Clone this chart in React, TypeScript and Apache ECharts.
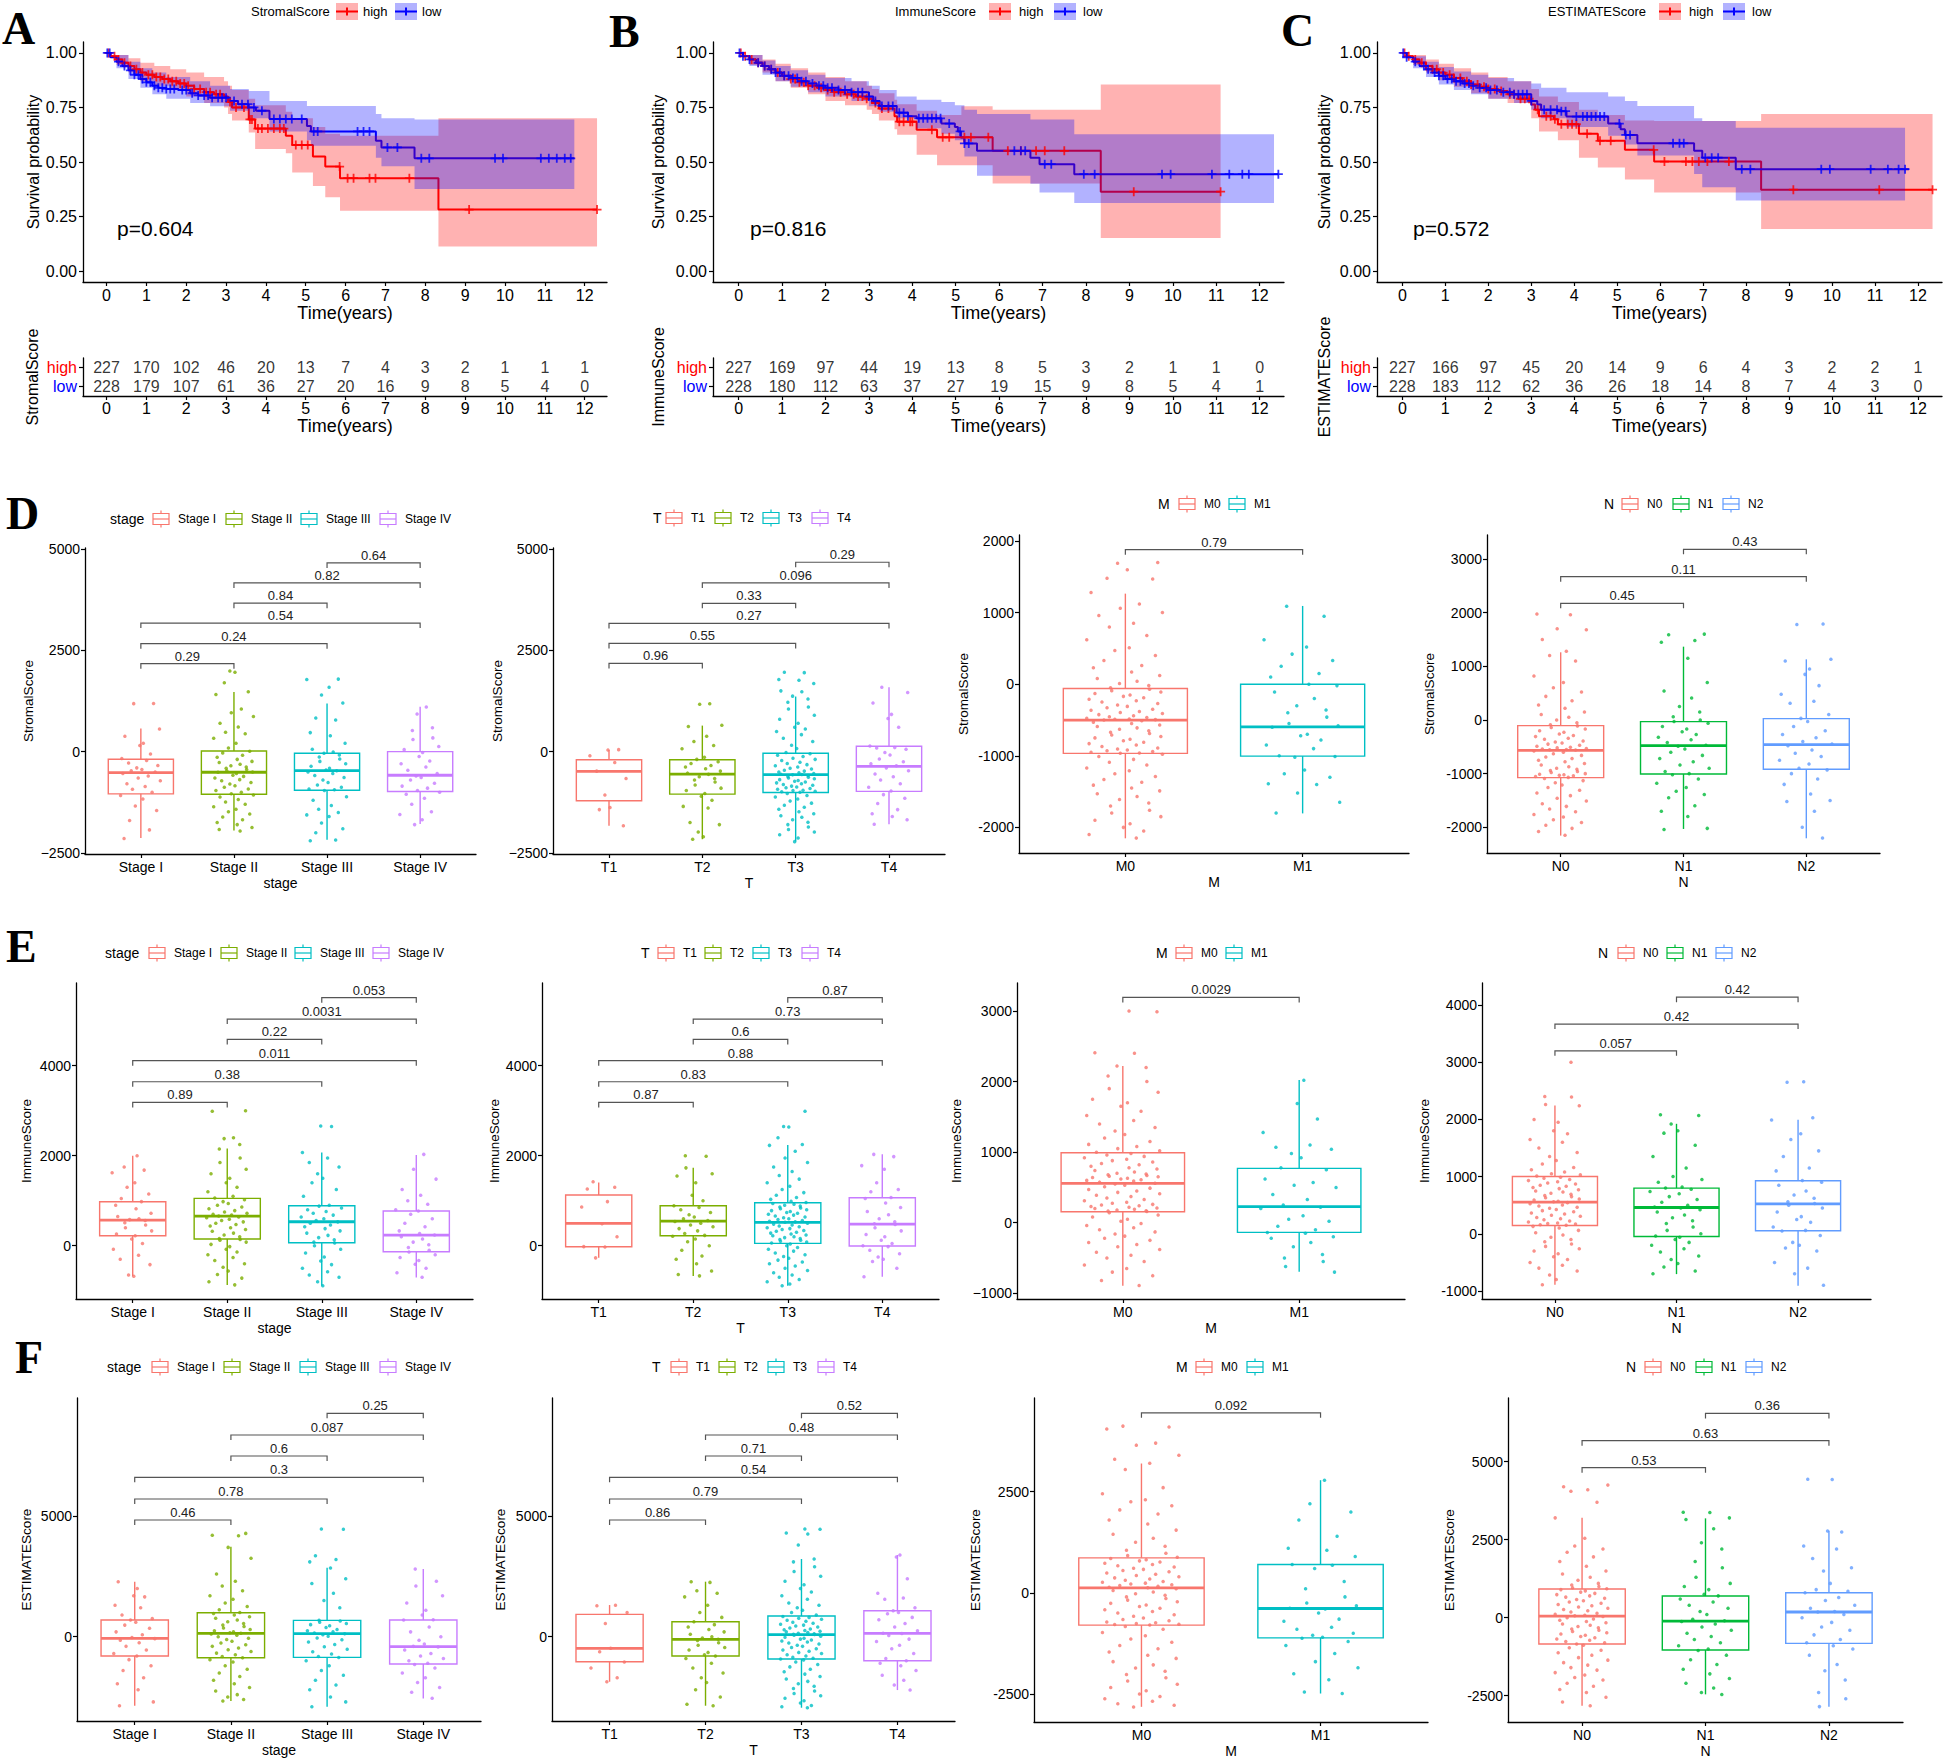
import React, { useEffect, useRef } from "react";
import * as echarts from "echarts";

const FONT = '"Liberation Sans", Arial, Helvetica, sans-serif';
const SERIF = '"Liberation Serif", "Times New Roman", serif';
const RED = "#FF0000";
const BLUE = "#0000FF";
const RED_FILL = "rgba(255,0,0,0.3)";
const BLUE_FILL = "rgba(0,0,255,0.3)";

// ---------------- Kaplan-Meier data ----------------
const YEARS = [0, 1, 2, 3, 4, 5, 6, 7, 8, 9, 10, 11, 12];
const PROB_TICKS = [0, 0.25, 0.5, 0.75, 1];

// A: StromalScore
const A_HIGH_T = [0, 0.1, 0.25, 0.4, 0.55, 0.7, 0.85, 1.0, 1.2, 1.4, 1.6, 1.8, 2.0, 2.2, 2.45, 2.7, 2.95, 3.05, 3.15, 3.57, 3.73, 4.5, 4.66, 5.18, 5.49, 5.86, 8.33, 12.31];
const A_HIGH_S = [1, 0.985, 0.97, 0.955, 0.94, 0.925, 0.91, 0.9, 0.89, 0.88, 0.87, 0.86, 0.85, 0.835, 0.82, 0.81, 0.8, 0.775, 0.75, 0.695, 0.653, 0.62, 0.578, 0.525, 0.479, 0.426, 0.282, 0.282];
const A_LOW_T = [0, 0.1, 0.25, 0.4, 0.55, 0.7, 0.85, 1.0, 1.15, 1.3, 1.5, 1.8, 2.1, 2.3, 2.6, 3.1, 3.3, 3.57, 3.75, 4.09, 5.03, 5.13, 6.76, 6.9, 7.73, 11.74];
const A_LOW_S = [1, 0.98, 0.96, 0.94, 0.92, 0.9, 0.88, 0.865, 0.85, 0.84, 0.835, 0.83, 0.815, 0.805, 0.795, 0.78, 0.765, 0.75, 0.735, 0.697, 0.665, 0.64, 0.597, 0.567, 0.517, 0.517];
const A_HIGH_BAND_T = [0, 0.25, 0.55, 0.85, 1.2, 1.6, 2.0, 2.45, 2.95, 3.05, 3.15, 3.57, 3.73, 4.5, 4.66, 5.18, 5.49, 5.86, 8.33, 12.31];
const A_HIGH_BAND_UP = [1, 0.99, 0.975, 0.955, 0.94, 0.925, 0.91, 0.89, 0.87, 0.85, 0.83, 0.79, 0.76, 0.73, 0.7, 0.66, 0.63, 0.62, 0.7, 0.7];
const A_HIGH_BAND_LO = [1, 0.945, 0.91, 0.87, 0.85, 0.83, 0.8, 0.77, 0.75, 0.72, 0.69, 0.635, 0.56, 0.54, 0.452, 0.39, 0.338, 0.277, 0.113, 0.113];
const A_LOW_BAND_T = [0, 0.25, 0.55, 0.85, 1.15, 1.5, 2.1, 2.6, 3.1, 3.57, 4.09, 5.03, 5.13, 6.76, 6.9, 7.73, 11.74];
const A_LOW_BAND_UP = [1, 0.99, 0.96, 0.93, 0.91, 0.89, 0.87, 0.85, 0.835, 0.825, 0.78, 0.757, 0.757, 0.72, 0.7, 0.695, 0.695];
const A_LOW_BAND_LO = [1, 0.93, 0.88, 0.84, 0.81, 0.79, 0.77, 0.755, 0.735, 0.7, 0.64, 0.6, 0.575, 0.52, 0.48, 0.376, 0.376];
const A_HIGH_CENS = [0.05, 0.2, 0.3, 0.45, 0.6, 0.75, 0.9, 1.05, 1.15, 1.25, 1.35, 1.45, 1.55, 1.65, 1.75, 1.85, 1.95, 2.05, 2.2, 2.35, 2.5, 2.6, 2.75, 2.85, 3.1, 3.25, 3.45, 3.6, 3.65, 3.8, 3.9, 4.05, 4.2, 4.35, 4.45, 4.75, 4.9, 5.05, 5.85, 6.05, 6.2, 6.6, 6.75, 7.6, 9.1, 12.31];
const A_LOW_CENS = [0.02, 0.08, 0.3, 0.45, 0.6, 0.7, 0.8, 0.9, 1.0, 1.1, 1.2, 1.3, 1.4, 1.5, 1.6, 1.7, 1.9, 2.0, 2.15, 2.3, 2.45, 2.55, 2.65, 2.8, 2.9, 3.0, 3.2, 3.4, 3.55, 3.7, 3.9, 4.2, 4.35, 4.5, 4.65, 4.9, 5.2, 5.3, 6.3, 6.45, 6.6, 7.05, 7.3, 7.9, 8.1, 9.75, 9.95, 10.9, 11.1, 11.3, 11.5, 11.65];
const A_RISK_HIGH = [227, 170, 102, 46, 20, 13, 7, 4, 3, 2, 1, 1, 1];
const A_RISK_LOW = [228, 179, 107, 61, 36, 27, 20, 16, 9, 8, 5, 4, 0];

// B: ImmuneScore
const B_HIGH_T = [0, 0.1, 0.25, 0.4, 0.55, 0.7, 0.85, 1.0, 1.2, 1.4, 1.6, 1.8, 2.0, 2.2, 2.45, 2.7, 2.95, 3.07, 3.23, 3.59, 3.65, 4.1, 4.57, 5.85, 8.34, 11.1];
const B_HIGH_S = [1, 0.985, 0.97, 0.955, 0.94, 0.925, 0.91, 0.895, 0.88, 0.865, 0.85, 0.84, 0.83, 0.82, 0.81, 0.8, 0.79, 0.77, 0.745, 0.71, 0.685, 0.648, 0.613, 0.551, 0.364, 0.364];
const B_LOW_T = [0, 0.1, 0.25, 0.4, 0.55, 0.7, 0.85, 1.0, 1.2, 1.4, 1.6, 1.8, 2.0, 2.3, 2.6, 3.0, 3.1, 3.25, 3.64, 3.9, 4.1, 4.67, 4.98, 5.05, 5.12, 5.2, 5.49, 6.72, 6.93, 7.73, 12.43];
const B_LOW_S = [1, 0.985, 0.97, 0.955, 0.94, 0.925, 0.91, 0.895, 0.885, 0.87, 0.86, 0.85, 0.84, 0.83, 0.82, 0.8, 0.78, 0.757, 0.726, 0.71, 0.7, 0.676, 0.66, 0.64, 0.612, 0.585, 0.551, 0.52, 0.49, 0.444, 0.444];
const B_HIGH_BAND_T = [0, 0.25, 0.55, 0.85, 1.2, 1.6, 2.0, 2.45, 2.95, 3.07, 3.23, 3.59, 3.65, 4.1, 4.57, 5.13, 5.85, 8.34, 11.1];
const B_HIGH_BAND_UP = [1, 0.99, 0.97, 0.95, 0.93, 0.91, 0.89, 0.87, 0.85, 0.835, 0.815, 0.785, 0.765, 0.735, 0.715, 0.755, 0.74, 0.855, 0.855];
const B_HIGH_BAND_LO = [1, 0.945, 0.91, 0.87, 0.84, 0.81, 0.78, 0.76, 0.74, 0.72, 0.69, 0.65, 0.625, 0.533, 0.485, 0.485, 0.402, 0.152, 0.152];
const B_LOW_BAND_T = [0, 0.25, 0.55, 0.85, 1.2, 1.6, 2.0, 2.6, 3.0, 3.25, 3.64, 4.1, 4.67, 4.98, 5.2, 5.49, 6.72, 6.93, 7.73, 12.33];
const B_LOW_BAND_UP = [1, 0.99, 0.965, 0.94, 0.92, 0.9, 0.885, 0.87, 0.85, 0.83, 0.8, 0.785, 0.775, 0.76, 0.74, 0.72, 0.695, 0.695, 0.627, 0.627];
const B_LOW_BAND_LO = [1, 0.94, 0.9, 0.87, 0.845, 0.82, 0.8, 0.78, 0.755, 0.73, 0.7, 0.655, 0.63, 0.6, 0.525, 0.437, 0.4, 0.36, 0.312, 0.312];
const B_HIGH_CENS = [0.05, 0.15, 0.3, 0.45, 0.6, 0.75, 0.9, 1.05, 1.2, 1.3, 1.4, 1.5, 1.6, 1.75, 1.9, 2.05, 2.2, 2.35, 2.5, 2.65, 2.75, 2.85, 2.95, 3.15, 3.3, 3.45, 3.7, 3.8, 3.95, 4.0, 4.45, 4.7, 4.85, 5.2, 5.35, 5.75, 6.2, 6.5, 6.85, 7.05, 7.5, 9.1, 11.1];
const B_LOW_CENS = [0.02, 0.1, 0.25, 0.45, 0.6, 0.75, 0.85, 0.95, 1.05, 1.15, 1.25, 1.35, 1.45, 1.55, 1.7, 1.85, 1.95, 2.05, 2.15, 2.3, 2.45, 2.6, 2.75, 2.85, 3.0, 3.15, 3.3, 3.45, 3.55, 3.7, 3.8, 3.9, 4.15, 4.25, 4.35, 4.45, 4.55, 4.65, 4.85, 5.1, 5.2, 5.3, 6.35, 6.5, 6.6, 7.05, 7.2, 7.95, 8.2, 9.75, 9.95, 10.9, 11.3, 11.6, 11.75, 12.43];
const B_RISK_HIGH = [227, 169, 97, 44, 19, 13, 8, 5, 3, 2, 1, 1, 0];
const B_RISK_LOW = [228, 180, 112, 63, 37, 27, 19, 15, 9, 8, 5, 4, 1];

// C: ESTIMATEScore
const C_HIGH_T = [0, 0.1, 0.25, 0.4, 0.55, 0.7, 0.85, 1.0, 1.2, 1.4, 1.6, 1.8, 2.0, 2.2, 2.45, 2.7, 3.0, 3.09, 3.18, 3.53, 3.62, 4.11, 4.55, 5.18, 5.86, 8.35, 12.34];
const C_HIGH_S = [1, 0.985, 0.97, 0.955, 0.94, 0.925, 0.91, 0.9, 0.885, 0.87, 0.855, 0.845, 0.835, 0.825, 0.81, 0.79, 0.764, 0.74, 0.71, 0.696, 0.673, 0.63, 0.597, 0.556, 0.502, 0.373, 0.373];
const C_LOW_T = [0, 0.1, 0.25, 0.4, 0.55, 0.7, 0.85, 1.0, 1.2, 1.4, 1.6, 1.8, 2.0, 2.3, 2.6, 3.0, 3.14, 3.23, 3.62, 3.82, 4.79, 5.08, 5.18, 5.47, 6.79, 6.98, 7.76, 11.79];
const C_LOW_S = [1, 0.98, 0.96, 0.94, 0.925, 0.91, 0.895, 0.88, 0.87, 0.86, 0.85, 0.84, 0.83, 0.82, 0.81, 0.78, 0.764, 0.74, 0.733, 0.708, 0.676, 0.65, 0.624, 0.586, 0.551, 0.52, 0.467, 0.467];
const C_HIGH_BAND_T = [0, 0.25, 0.55, 0.85, 1.2, 1.6, 2.0, 2.45, 3.0, 3.18, 3.62, 4.11, 4.55, 5.18, 5.86, 8.35, 12.34];
const C_HIGH_BAND_UP = [1, 0.99, 0.97, 0.95, 0.93, 0.91, 0.89, 0.87, 0.835, 0.8, 0.775, 0.74, 0.715, 0.69, 0.688, 0.72, 0.72];
const C_HIGH_BAND_LO = [1, 0.945, 0.91, 0.875, 0.845, 0.815, 0.79, 0.77, 0.7, 0.64, 0.6, 0.52, 0.475, 0.42, 0.36, 0.193, 0.193];
const C_LOW_BAND_T = [0, 0.25, 0.55, 0.85, 1.2, 1.6, 2.0, 2.6, 3.0, 3.23, 3.82, 4.79, 5.18, 5.47, 6.79, 6.98, 7.76, 11.7];
const C_LOW_BAND_UP = [1, 0.985, 0.96, 0.935, 0.915, 0.9, 0.885, 0.87, 0.86, 0.84, 0.82, 0.8, 0.78, 0.757, 0.7, 0.688, 0.657, 0.657];
const C_LOW_BAND_LO = [1, 0.93, 0.89, 0.855, 0.83, 0.81, 0.79, 0.77, 0.74, 0.7, 0.66, 0.62, 0.58, 0.53, 0.445, 0.384, 0.323, 0.323];
const C_HIGH_CENS = [0.05, 0.15, 0.3, 0.45, 0.55, 0.7, 0.8, 0.95, 1.1, 1.2, 1.35, 1.5, 1.6, 1.75, 1.9, 2.0, 2.15, 2.3, 2.5, 2.6, 2.75, 2.85, 2.95, 3.15, 3.35, 3.45, 3.55, 3.7, 3.85, 3.95, 4.05, 4.3, 4.6, 4.85, 5.85, 6.1, 6.6, 6.75, 6.9, 7.1, 7.6, 9.1, 11.1, 12.34];
const C_LOW_CENS = [0.02, 0.1, 0.3, 0.5, 0.6, 0.75, 0.85, 0.95, 1.05, 1.15, 1.25, 1.35, 1.45, 1.55, 1.65, 1.8, 1.95, 2.05, 2.2, 2.35, 2.5, 2.6, 2.7, 2.8, 2.9, 3.0, 3.3, 3.45, 3.6, 3.7, 3.8, 4.05, 4.2, 4.3, 4.4, 4.5, 4.6, 4.7, 5.05, 5.2, 5.3, 6.3, 6.45, 6.55, 7.05, 7.2, 7.35, 7.9, 8.1, 9.75, 9.95, 10.9, 11.3, 11.55, 11.7];
const C_RISK_HIGH = [227, 166, 97, 45, 20, 14, 9, 6, 4, 3, 2, 2, 1];
const C_RISK_LOW = [228, 183, 112, 62, 36, 26, 18, 14, 8, 7, 4, 3, 0];

// ---------------- Box plot data ----------------
const STAGE_CATS = ["Stage I", "Stage II", "Stage III", "Stage IV"];
const T_CATS = ["T1", "T2", "T3", "T4"];
const M_CATS = ["M0", "M1"];
const N_CATS = ["N0", "N1", "N2"];
const HUE4 = ["#F8766D", "#7CAE00", "#00BFC4", "#C77CFF"];
const HUE2 = ["#F8766D", "#00BFC4"];
const HUE3 = ["#F8766D", "#00BA38", "#619CFF"];

// box stats: [lower whisker, q1, median, q3, upper whisker]
const D_STAGE_BOX = [[-2131, -1041, -516, -189, 574], [-1943, -1049, -508, 16, 1475], [-2172, -951, -467, -41, 1189], [-1787, -984, -582, 0, 1107]];
const D_T_BOX = [[-1830, -1212, -486, -198, 41], [-2160, -1047, -552, -198, 643], [-2217, -1006, -569, -41, 1360], [-1789, -981, -363, 132, 1591]];
const D_M_BOX = [[-2153, -967, -502, -60, 1265], [-1805, -1005, -595, 0, 1093]];
const D_N_BOX = [[-2155, -1075, -565, -106, 1261], [-2031, -1006, -478, -31, 1366], [-2205, -919, -460, 25, 1130]];
const E_STAGE_BOX = [[-674, 222, 570, 978, 2000], [-874, 148, 659, 1052, 2163], [-889, 67, 533, 889, 2074], [-704, -133, 237, 770, 2015]];
const E_T_BOX = [[-267, -22, 496, 1126, 1407], [-674, 222, 548, 889, 1733], [-889, 52, 519, 956, 2237], [-689, -7, 481, 1067, 2030]];
const E_M_BOX = [[-893, 156, 557, 992, 2220], [-694, -137, 227, 770, 2021]];
const E_N_BOX = [[-892, 146, 554, 1002, 2244], [-705, -47, 460, 798, 1923], [-909, 52, 524, 927, 1993]];
const F_STAGE_BOX = [[-2859, -801, -69, 691, 2279], [-2666, -870, 138, 994, 3729], [-2901, -856, 124, 677, 2859], [-2555, -1133, -414, 691, 2804]];
const F_T_BOX = [[-1865, -1036, -483, 925, 1312], [-2859, -801, -110, 622, 2279], [-2942, -925, 83, 856, 3218], [-2210, -994, 138, 1077, 3384]];
const F_M_BOX = [[-2817, -799, 124, 865, 3196], [-2488, -1112, -387, 700, 2784]];
const F_N_BOX = [[-2821, -844, 53, 919, 3205], [-2457, -1036, -107, 694, 3184], [-2853, -823, 182, 801, 2788]];

// p-value brackets: [group a, group b, height, label]
const D_STAGE_P = [[0, 1, 2172, "0.29"], [0, 2, 2664, "0.24"], [0, 3, 3172, "0.54"], [1, 2, 3664, "0.84"], [1, 3, 4164, "0.82"], [2, 3, 4656, "0.64"]];
const D_T_P = [[0, 1, 2176, "0.96"], [0, 2, 2671, "0.55"], [0, 3, 3165, "0.27"], [1, 2, 3660, "0.33"], [1, 3, 4163, "0.096"], [2, 3, 4673, "0.29"]];
const D_M_P = [[0, 1, 1879, "0.79"]];
const D_N_P = [[0, 1, 2174, "0.45"], [0, 2, 2671, "0.11"], [1, 2, 3180, "0.43"]];
const E_STAGE_P = [[0, 1, 3185, "0.89"], [0, 2, 3644, "0.38"], [0, 3, 4111, "0.011"], [1, 2, 4585, "0.22"], [1, 3, 5037, "0.0031"], [2, 3, 5511, "0.053"]];
const E_T_P = [[0, 1, 3185, "0.87"], [0, 2, 3644, "0.83"], [0, 3, 4111, "0.88"], [1, 2, 4585, "0.6"], [1, 3, 5037, "0.73"], [2, 3, 5511, "0.87"]];
const E_M_P = [[0, 1, 3192, "0.0029"]];
const E_N_P = [[0, 1, 3199, "0.057"], [0, 2, 3666, "0.42"], [1, 2, 4138, "0.42"]];
const F_STAGE_P = [[0, 1, 4834, "0.46"], [0, 2, 5704, "0.78"], [0, 3, 6602, "0.3"], [1, 2, 7486, "0.6"], [1, 3, 8356, "0.087"], [2, 3, 9254, "0.25"]];
const F_T_P = [[0, 1, 4834, "0.86"], [0, 2, 5704, "0.79"], [0, 3, 6602, "0.54"], [1, 2, 7486, "0.71"], [1, 3, 8356, "0.48"], [2, 3, 9254, "0.52"]];
const F_M_P = [[0, 1, 4448, "0.092"]];
const F_N_P = [[0, 1, 4808, "0.53"], [0, 2, 5673, "0.63"], [1, 2, 6549, "0.36"]];

// jittered sample values (StromalScore)
const D_STAGE_I = [1190, 1185, 560, 380, 210, 150, -60, -170, -220, -280, -340, -400, -440, -470, -500, -540, -600, -650, -720, -790, -860, -930, -1000, -1080, -1170, -1340, -1450, -1700, -1930, -2140];
const D_STAGE_II = [1990, 1960, 1700, 1480, 1410, 1050, 960, 870, 700, 610, 480, 440, 330, 210, 90, 10, -30, -90, -140, -190, -240, -270, -310, -350, -380, -410, -440, -470, -500, -510, -540, -580, -610, -650, -690, -720, -760, -800, -840, -880, -920, -960, -1000, -1040, -1070, -1120, -1180, -1240, -1300, -1360, -1420, -1480, -1540, -1610, -1680, -1750, -1800, -1870, -1920, -1960];
const D_STAGE_III = [1790, 1780, 1590, 1400, 1200, 830, 780, 470, 390, 210, 60, -10, -40, -80, -130, -180, -240, -300, -360, -410, -450, -470, -500, -540, -590, -640, -700, -760, -820, -880, -920, -940, -960, -1110, -1200, -1330, -1420, -1500, -1560, -1600, -1760, -1900, -2000, -2180, -2200];
const D_STAGE_IV = [1100, 930, 590, 520, 340, 300, 130, 50, -20, -120, -230, -300, -380, -460, -540, -600, -640, -700, -780, -850, -900, -960, -1000, -1050, -1150, -1300, -1480, -1550, -1680, -1800];
const D_T1 = [40, 50, -100, -270, -480, -660, -1070, -1380, -1430, -1830];
const D_T2 = [1180, 1170, 650, 620, 380, 250, 150, 70, -140, -190, -250, -290, -340, -380, -420, -480, -530, -560, -620, -660, -700, -750, -820, -900, -960, -1030, -1100, -1200, -1350, -1390, -1750, -1800, -1980, -2100, -2160];
const D_T3 = [1960, 1950, 1780, 1760, 1680, 1500, 1480, 1370, 1300, 1220, 1100, 1050, 900, 800, 700, 600, 560, 500, 420, 330, 250, 160, 80, -20, -50, -90, -120, -160, -190, -220, -260, -290, -320, -350, -380, -410, -430, -460, -480, -500, -520, -540, -555, -565, -570, -590, -610, -630, -650, -670, -690, -710, -730, -750, -770, -790, -810, -830, -850, -870, -890, -910, -930, -950, -960, -975, -990, -1000, -1030, -1080, -1120, -1170, -1220, -1270, -1320, -1370, -1420, -1480, -1530, -1580, -1620, -1680, -1740, -1800, -1860, -1920, -1980, -2050, -2130, -2220];
const D_T4 = [1590, 1460, 1200, 920, 820, 600, 140, 100, 90, 60, -20, -80, -180, -250, -300, -350, -400, -470, -550, -620, -700, -790, -880, -970, -1060, -1150, -1280, -1430, -1530, -1600, -1680, -1790];
const D_M0 = [1700, 1690, 1600, 1480, 1470, 1280, 1120, 1060, 1000, 960, 850, 800, 680, 620, 510, 470, 400, 330, 260, 230, 170, 120, 80, 40, 10, -20, -50, -70, -90, -110, -130, -150, -170, -190, -210, -230, -250, -270, -290, -310, -330, -350, -365, -380, -395, -410, -425, -440, -455, -465, -475, -485, -490, -495, -500, -510, -530, -550, -570, -590, -610, -630, -650, -670, -690, -710, -730, -750, -770, -790, -810, -830, -850, -870, -890, -905, -920, -930, -940, -950, -960, -965, -980, -1010, -1050, -1090, -1130, -1170, -1210, -1250, -1290, -1330, -1370, -1410, -1450, -1490, -1530, -1570, -1610, -1660, -1700, -1760, -1800, -1850, -1900, -1950, -2000, -2050, -2100, -2150];
const D_M1 = [1090, 950, 620, 520, 420, 330, 250, 150, 100, 0, -20, -110, -200, -300, -360, -400, -460, -550, -580, -600, -700, -720, -780, -850, -900, -1000, -1010, -1020, -1200, -1250, -1300, -1390, -1400, -1520, -1650, -1800];
const D_N0 = [1975, 1960, 1700, 1680, 1500, 1280, 1200, 1100, 820, 700, 600, 520, 440, 360, 280, 220, 150, 100, 50, 0, -50, -90, -110, -140, -170, -200, -230, -260, -290, -310, -340, -360, -390, -410, -430, -450, -470, -490, -510, -520, -530, -540, -550, -555, -560, -580, -600, -630, -660, -690, -720, -750, -780, -810, -840, -870, -900, -920, -940, -960, -980, -1000, -1010, -1020, -1030, -1040, -1055, -1070, -1090, -1130, -1170, -1210, -1260, -1310, -1360, -1410, -1460, -1510, -1560, -1610, -1660, -1710, -1760, -1810, -1860, -1910, -1960, -2020, -2080, -2150];
const D_N1 = [1600, 1590, 1480, 1450, 1150, 700, 540, 410, 250, 150, 60, 0, -30, -60, -120, -170, -220, -270, -320, -370, -420, -470, -490, -540, -600, -660, -720, -780, -840, -900, -960, -1000, -1020, -1100, -1180, -1260, -1330, -1390, -1450, -1600, -1700, -1800, -2020, -2040];
const D_N2 = [1790, 1780, 1130, 1100, 950, 850, 640, 480, 350, 310, 100, 30, -30, -120, -200, -270, -330, -400, -450, -480, -560, -620, -680, -750, -820, -900, -930, -1000, -1100, -1200, -1380, -1500, -1520, -1700, -2000, -2200];

// jittered sample values (ImmuneScore)
const E_STAGE_I = [2000, 1750, 1680, 1620, 1400, 1300, 1150, 1050, 980, 900, 820, 720, 650, 600, 580, 560, 510, 460, 400, 330, 260, 220, 150, 50, -80, -210, -300, -420, -650, -680];
const E_STAGE_II = [3000, 2990, 2400, 2380, 2250, 2150, 1950, 1850, 1700, 1600, 1500, 1400, 1300, 1200, 1100, 1060, 1020, 980, 940, 900, 860, 820, 780, 750, 720, 700, 680, 660, 640, 620, 590, 560, 530, 500, 470, 440, 400, 360, 320, 280, 240, 200, 160, 140, 120, 80, 30, -20, -80, -140, -200, -260, -330, -400, -480, -560, -640, -720, -800, -870];
const E_STAGE_III = [2660, 2650, 2070, 1950, 1850, 1750, 1600, 1500, 1400, 1250, 1100, 900, 880, 840, 800, 760, 720, 680, 640, 600, 560, 530, 500, 460, 420, 380, 330, 280, 230, 180, 130, 80, 60, 0, -80, -160, -250, -340, -420, -500, -580, -650, -700, -800, -890];
const E_STAGE_IV = [2030, 1700, 1480, 1250, 1120, 1000, 920, 800, 770, 700, 600, 500, 420, 330, 270, 240, 200, 150, 80, 20, -40, -100, -140, -200, -260, -330, -410, -500, -600, -700];
const E_T1 = [1420, 1300, 1260, 980, 860, 490, 200, -20, -30, -270];
const E_T2 = [2000, 1990, 1730, 1600, 1550, 1400, 1120, 1000, 890, 850, 800, 740, 690, 640, 600, 560, 540, 500, 460, 420, 380, 330, 270, 230, 210, 150, 90, 0, -100, -230, -300, -400, -560, -640, -670];
const E_T3 = [2990, 2650, 2640, 2400, 2250, 2230, 2100, 1950, 1850, 1750, 1650, 1560, 1480, 1400, 1320, 1250, 1180, 1120, 1070, 1030, 990, 960, 940, 920, 900, 880, 860, 840, 820, 800, 780, 760, 740, 720, 700, 680, 660, 640, 620, 600, 580, 560, 545, 530, 520, 500, 480, 460, 440, 420, 400, 380, 360, 340, 320, 300, 280, 260, 240, 220, 200, 180, 160, 140, 120, 100, 80, 60, 40, 0, -40, -80, -120, -160, -200, -240, -280, -320, -360, -400, -450, -500, -550, -600, -650, -700, -750, -800, -850, -890];
const E_T4 = [2030, 1980, 1780, 1700, 1400, 1250, 1200, 1070, 1050, 950, 850, 760, 690, 600, 530, 490, 470, 400, 330, 250, 200, 120, 50, 0, -20, -100, -180, -250, -300, -350, -500, -690];
const E_M0 = [3000, 2990, 2410, 2400, 2220, 2200, 2080, 2000, 1900, 1850, 1750, 1700, 1650, 1580, 1520, 1450, 1400, 1350, 1300, 1250, 1200, 1150, 1110, 1080, 1050, 1020, 1000, 980, 960, 940, 920, 900, 880, 860, 840, 820, 800, 780, 760, 740, 720, 700, 690, 680, 670, 660, 650, 640, 630, 620, 610, 600, 590, 575, 560, 550, 530, 510, 490, 470, 450, 430, 410, 390, 370, 350, 330, 310, 290, 275, 260, 250, 240, 230, 220, 210, 200, 190, 180, 170, 165, 160, 140, 110, 80, 50, 20, -10, -40, -70, -100, -130, -160, -190, -220, -250, -280, -310, -340, -380, -420, -460, -500, -550, -600, -650, -700, -750, -820, -890];
const E_M1 = [2020, 1690, 1470, 1280, 1100, 1070, 1040, 980, 920, 780, 750, 620, 570, 530, 500, 400, 330, 250, 220, 200, 100, 50, 20, -50, -100, -140, -150, -200, -220, -280, -340, -450, -500, -550, -620, -700];
const E_N0 = [3000, 2400, 2390, 2260, 2240, 2000, 1950, 1800, 1750, 1650, 1600, 1500, 1420, 1350, 1280, 1220, 1160, 1120, 1080, 1050, 1030, 1010, 990, 970, 950, 930, 910, 890, 870, 850, 830, 810, 790, 770, 750, 730, 710, 690, 670, 650, 630, 610, 590, 570, 560, 545, 525, 505, 485, 465, 445, 425, 405, 385, 365, 345, 325, 305, 285, 265, 245, 225, 205, 190, 180, 170, 160, 150, 130, 100, 60, 20, -20, -60, -100, -140, -180, -220, -260, -300, -350, -400, -450, -500, -550, -600, -650, -720, -800, -890];
const E_N1 = [2080, 2070, 1920, 1800, 1760, 1550, 1350, 1150, 1000, 950, 900, 820, 800, 780, 740, 700, 650, 600, 550, 500, 470, 450, 420, 380, 330, 280, 230, 180, 120, 60, 0, -40, -60, -100, -150, -200, -260, -320, -390, -450, -520, -580, -650, -700];
const E_N2 = [2660, 2650, 2030, 1990, 1750, 1650, 1450, 1350, 1150, 1100, 930, 900, 850, 750, 680, 620, 560, 530, 500, 450, 380, 300, 250, 200, 120, 60, 50, -30, -150, -200, -250, -300, -500, -600, -700, -900];

// jittered sample values (ESTIMATEScore)
const F_STAGE_I = [2280, 2000, 1700, 1650, 1300, 1200, 900, 750, 690, 600, 480, 350, 200, 80, -30, -80, -150, -250, -400, -550, -700, -800, -950, -1200, -1400, -1700, -1950, -2200, -2700, -2860];
const F_STAGE_II = [4280, 4200, 4180, 3700, 3250, 2600, 2300, 2100, 1900, 1700, 1550, 1400, 1250, 1120, 1000, 960, 900, 830, 760, 690, 620, 550, 480, 420, 360, 300, 250, 200, 160, 140, 110, 60, 0, -60, -120, -190, -260, -330, -400, -470, -540, -610, -680, -750, -820, -870, -950, -1050, -1200, -1350, -1500, -1650, -1800, -1950, -2100, -2250, -2400, -2500, -2600, -2660];
const F_STAGE_III = [4460, 4450, 3350, 3200, 3100, 2850, 2400, 2200, 1800, 1500, 1200, 680, 650, 600, 550, 500, 450, 380, 300, 250, 200, 150, 124, 80, 20, -50, -130, -220, -320, -420, -520, -620, -720, -820, -860, -1000, -1200, -1400, -1600, -1800, -2000, -2200, -2500, -2700, -2900];
const F_STAGE_IV = [2800, 2300, 2100, 1700, 1400, 1100, 900, 700, 690, 400, 200, 0, -150, -300, -400, -430, -550, -700, -800, -900, -1000, -1100, -1150, -1300, -1500, -1700, -1900, -2100, -2300, -2550];
const F_T1 = [1300, 1280, 1000, 550, -480, -620, -1050, -1300, -1700, -1870];
const F_T2 = [2280, 2250, 1900, 1800, 1650, 1300, 1000, 800, 622, 500, 400, 300, 200, 100, 0, -50, -110, -160, -250, -350, -450, -550, -650, -750, -800, -900, -1100, -1300, -1500, -1700, -1900, -2200, -2500, -2800, -2860];
const F_T3 = [4460, 4450, 4300, 4250, 3800, 3220, 3100, 2900, 2700, 2500, 2300, 2150, 2000, 1850, 1700, 1550, 1400, 1300, 1200, 1100, 1000, 900, 840, 800, 760, 720, 680, 640, 600, 560, 520, 480, 440, 400, 360, 320, 290, 260, 230, 200, 170, 140, 120, 100, 90, 60, 20, -20, -60, -100, -140, -180, -220, -260, -300, -350, -400, -450, -500, -550, -600, -650, -700, -750, -800, -850, -890, -920, -960, -1050, -1150, -1250, -1350, -1450, -1550, -1650, -1750, -1850, -1950, -2050, -2150, -2250, -2350, -2450, -2550, -2650, -2750, -2850, -2900, -2940];
const F_T4 = [3380, 3300, 2400, 1800, 1600, 1550, 1200, 1077, 1000, 950, 800, 700, 550, 400, 250, 140, 130, 50, -100, -200, -350, -500, -700, -900, -1000, -1100, -1200, -1400, -1600, -1800, -2000, -2210];
const F_M0 = [4120, 4100, 4050, 3700, 3650, 3400, 3300, 3200, 3050, 2600, 2450, 2300, 2250, 2150, 2050, 1950, 1800, 1700, 1550, 1450, 1350, 1250, 1150, 1050, 980, 920, 880, 850, 820, 790, 760, 730, 700, 670, 640, 610, 580, 550, 520, 490, 460, 430, 400, 370, 340, 310, 280, 260, 240, 220, 200, 180, 160, 140, 125, 100, 60, 20, -20, -60, -100, -140, -180, -220, -260, -300, -340, -380, -420, -460, -500, -540, -580, -620, -660, -690, -720, -740, -760, -775, -785, -795, -830, -900, -980, -1060, -1140, -1220, -1300, -1380, -1460, -1540, -1620, -1700, -1780, -1860, -1940, -2020, -2100, -2180, -2260, -2340, -2420, -2500, -2560, -2620, -2680, -2740, -2780, -2820];
const F_M1 = [2780, 2200, 2000, 1800, 1400, 1100, 1050, 900, 700, 680, 600, 280, 100, -100, -250, -320, -380, -400, -500, -650, -700, -850, -900, -1000, -1050, -1100, -1120, -1200, -1300, -1500, -1700, -1850, -2000, -2150, -2450, -2490];
const F_N0 = [4250, 4200, 4100, 4050, 3700, 3200, 2550, 2300, 2200, 2100, 1950, 1800, 1650, 1500, 1400, 1300, 1200, 1100, 1050, 1000, 960, 930, 900, 860, 820, 780, 740, 700, 660, 620, 580, 540, 500, 460, 420, 380, 340, 300, 260, 220, 180, 140, 110, 80, 60, 40, 0, -40, -80, -120, -160, -200, -240, -280, -320, -360, -400, -440, -480, -520, -560, -600, -640, -680, -720, -760, -800, -840, -880, -960, -1040, -1120, -1200, -1280, -1360, -1440, -1520, -1600, -1680, -1760, -1840, -1920, -2000, -2100, -2200, -2300, -2400, -2550, -2700, -2820];
const F_N1 = [3380, 3370, 3200, 3150, 2850, 2400, 2200, 1800, 1600, 1300, 1100, 1000, 900, 750, 700, 600, 500, 400, 300, 200, 100, -50, -100, -120, -200, -300, -400, -500, -600, -700, -800, -900, -1000, -1050, -1200, -1350, -1500, -1650, -1800, -1950, -2100, -2250, -2400, -2460];
const F_N2 = [4440, 4430, 2780, 2750, 2300, 2200, 1900, 1600, 1500, 1100, 900, 850, 800, 650, 550, 400, 300, 200, 180, 100, 0, -150, -300, -400, -550, -700, -800, -900, -1000, -1200, -1500, -1700, -2000, -2400, -2600, -2850];

// horizontal jitter pattern (fraction of half-spread)
const JITTER = [0.62, -0.35, 0.91, -0.78, 0.12, -0.05, 0.47, -0.93, 0.28, -0.6, 0.83, -0.2, 0.05, -0.47, 0.7, -0.88, 0.36, -0.13, 0.95, -0.68, 0.21, -0.41, 0.55, -0.99, 0.1, -0.27, 0.77, -0.55, 0.42, -0.82, 0.16, 0.88, -0.72, 0.3, -0.15, 0.6, -0.38];

// ---------------- layout ----------------
const KM_PANELS = [
  { title: "StromalScore", p: "p=0.604", letter: "A", letterX: 2, letterY: 28, left: 83, width: 524, yGap: 42, rGap: 43, pX: 117, leg: [251, 336, 363, 395, 422],
    hi: { t: A_HIGH_T, s: A_HIGH_S, bt: A_HIGH_BAND_T, up: A_HIGH_BAND_UP, lo: A_HIGH_BAND_LO, cens: A_HIGH_CENS, risk: A_RISK_HIGH },
    lw: { t: A_LOW_T, s: A_LOW_S, bt: A_LOW_BAND_T, up: A_LOW_BAND_UP, lo: A_LOW_BAND_LO, cens: A_LOW_CENS, risk: A_RISK_LOW } },
  { title: "ImmuneScore", p: "p=0.816", letter: "B", letterX: 609, letterY: 31, left: 713, width: 571, yGap: 47, rGap: 47, pX: 750, leg: [895, 989, 1019, 1054, 1083],
    hi: { t: B_HIGH_T, s: B_HIGH_S, bt: B_HIGH_BAND_T, up: B_HIGH_BAND_UP, lo: B_HIGH_BAND_LO, cens: B_HIGH_CENS, risk: B_RISK_HIGH },
    lw: { t: B_LOW_T, s: B_LOW_S, bt: B_LOW_BAND_T, up: B_LOW_BAND_UP, lo: B_LOW_BAND_LO, cens: B_LOW_CENS, risk: B_RISK_LOW } },
  { title: "ESTIMATEScore", p: "p=0.572", letter: "C", letterX: 1281, letterY: 30, left: 1377, width: 565, yGap: 45, rGap: 45, pX: 1413, leg: [1548, 1659, 1689, 1723, 1752],
    hi: { t: C_HIGH_T, s: C_HIGH_S, bt: C_HIGH_BAND_T, up: C_HIGH_BAND_UP, lo: C_HIGH_BAND_LO, cens: C_HIGH_CENS, risk: C_RISK_HIGH },
    lw: { t: C_LOW_T, s: C_LOW_S, bt: C_LOW_BAND_T, up: C_LOW_BAND_UP, lo: C_LOW_BAND_LO, cens: C_LOW_CENS, risk: C_RISK_LOW } },
];

const HY = "-";
const MN = "\u2212";
const BOX_PANELS = [
  { cats: STAGE_CATS, colors: HUE4, box: D_STAGE_BOX, pts: [D_STAGE_I, D_STAGE_II, D_STAGE_III, D_STAGE_IV], p: D_STAGE_P, yTitle: "StromalScore", xTitle: "stage", ticks: [-2500, 0, 2500, 5000], yr: [-2525, 5025], minus: MN, g: [85, 548, 476, 854], yGap: 50, leg: { y: 519, tx: 110, kx: [153, 226, 301, 380] } },
  { cats: T_CATS, colors: HUE4, box: D_T_BOX, pts: [D_T1, D_T2, D_T3, D_T4], p: D_T_P, yTitle: "StromalScore", xTitle: "T", ticks: [-2500, 0, 2500, 5000], yr: [-2525, 5025], minus: MN, g: [553, 548, 945, 854], yGap: 49, leg: { y: 518, tx: 653, kx: [666, 715, 763, 812] } },
  { cats: M_CATS, colors: HUE2, box: D_M_BOX, pts: [D_M0, D_M1], p: D_M_P, yTitle: "StromalScore", xTitle: "M", ticks: [-2000, -1000, 0, 1000, 2000], yr: [-2358, 2084], minus: HY, g: [1019, 535, 1409, 853], yGap: 49, leg: { y: 504, tx: 1158, kx: [1179, 1229] } },
  { cats: N_CATS, colors: HUE3, box: D_N_BOX, pts: [D_N0, D_N1, D_N2], p: D_N_P, yTitle: "StromalScore", xTitle: "N", ticks: [-2000, -1000, 0, 1000, 2000, 3000], yr: [-2479, 3447], minus: HY, g: [1487, 535, 1880, 853], yGap: 51, leg: { y: 504, tx: 1604, kx: [1622, 1673, 1723] } },
  { cats: STAGE_CATS, colors: HUE4, box: E_STAGE_BOX, pts: [E_STAGE_I, E_STAGE_II, E_STAGE_III, E_STAGE_IV], p: E_STAGE_P, yTitle: "ImmuneScore", xTitle: "stage", ticks: [0, 2000, 4000], yr: [-1184, 5838], minus: HY, g: [76, 983, 473, 1299], yGap: 43, leg: { y: 953, tx: 105, kx: [149, 221, 295, 373] } },
  { cats: T_CATS, colors: HUE4, box: E_T_BOX, pts: [E_T1, E_T2, E_T3, E_T4], p: E_T_P, yTitle: "ImmuneScore", xTitle: "T", ticks: [0, 2000, 4000], yr: [-1184, 5838], minus: HY, g: [542, 983, 939, 1299], yGap: 41, leg: { y: 953, tx: 641, kx: [658, 705, 753, 802] } },
  { cats: M_CATS, colors: HUE2, box: E_M_BOX, pts: [E_M0, E_M1], p: E_M_P, yTitle: "ImmuneScore", xTitle: "M", ticks: [-1000, 0, 1000, 2000, 3000], yr: [-1081, 3397], minus: MN, g: [1017, 983, 1405, 1299], yGap: 54, leg: { y: 953, tx: 1156, kx: [1176, 1226] } },
  { cats: N_CATS, colors: HUE3, box: E_N_BOX, pts: [E_N0, E_N1, E_N2], p: E_N_P, yTitle: "ImmuneScore", xTitle: "N", ticks: [-1000, 0, 1000, 2000, 3000, 4000], yr: [-1140, 4385], minus: HY, g: [1482, 983, 1871, 1299], yGap: 51, leg: { y: 953, tx: 1598, kx: [1618, 1667, 1716] } },
  { cats: STAGE_CATS, colors: HUE4, box: F_STAGE_BOX, pts: [F_STAGE_I, F_STAGE_II, F_STAGE_III, F_STAGE_IV], p: F_STAGE_P, yTitle: "ESTIMATEScore", xTitle: "stage", ticks: [0, 5000], yr: [-3492, 9888], minus: HY, g: [77, 1398, 481, 1721], yGap: 44, leg: { y: 1367, tx: 107, kx: [152, 224, 300, 380] } },
  { cats: T_CATS, colors: HUE4, box: F_T_BOX, pts: [F_T1, F_T2, F_T3, F_T4], p: F_T_P, yTitle: "ESTIMATEScore", xTitle: "T", ticks: [0, 5000], yr: [-3492, 9888], minus: HY, g: [552, 1398, 955, 1721], yGap: 45, leg: { y: 1367, tx: 652, kx: [671, 719, 768, 818] } },
  { cats: M_CATS, colors: HUE2, box: F_M_BOX, pts: [F_M0, F_M1], p: F_M_P, yTitle: "ESTIMATEScore", xTitle: "M", ticks: [-2500, 0, 2500], yr: [-3192, 4815], minus: HY, g: [1034, 1398, 1428, 1722], yGap: 52, leg: { y: 1367, tx: 1176, kx: [1196, 1247] } },
  { cats: N_CATS, colors: HUE3, box: F_N_BOX, pts: [F_N0, F_N1, F_N2], p: F_N_P, yTitle: "ESTIMATEScore", xTitle: "N", ticks: [-2500, 0, 2500, 5000], yr: [-3343, 7042], minus: HY, g: [1508, 1398, 1903, 1722], yGap: 52, leg: { y: 1367, tx: 1626, kx: [1645, 1696, 1746] } },
];

const ROW_LETTERS = [
  { t: "D", x: 6, y: 513 },
  { t: "E", x: 6, y: 946 },
  { t: "F", x: 15, y: 1357 },
];

const PLUS = "path://M4,0H6V4H10V6H6V10H4V6H0V4H4Z";

function stepAt(T: number[], S: number[], t: number) {
  let v = S[0];
  for (let k = 0; k < T.length; k++) {
    if (T[k] <= t) v = S[k];
    else break;
  }
  return v;
}

function axisBase() {
  return {
    axisLine: { show: true, onZero: false, lineStyle: { color: "#000", width: 1.3 } },
    splitLine: { show: false },
  };
}

function buildOption() {
  const grids: any[] = [];
  const xAxes: any[] = [];
  const yAxes: any[] = [];
  const series: any[] = [];
  const graphics: any[] = [];

  const letter = (t: string, x: number, y: number) =>
    graphics.push({ type: "text", x, y, style: { text: t, fontFamily: SERIF, fontWeight: "bold", fontSize: 46, fill: "#000", verticalAlign: "middle" } });

  // ---------- KM panels ----------
  KM_PANELS.forEach((P) => {
    const gi = grids.length;
    grids.push({ left: P.left, top: 42, width: P.width, height: 240 });
    xAxes.push({
      gridIndex: gi, type: "value", min: -0.59, max: 12.56, ...axisBase(),
      name: "Time(years)", nameLocation: "middle", nameGap: 20,
      nameTextStyle: { fontSize: 18, color: "#000", fontFamily: FONT },
      axisTick: { show: true, customValues: YEARS, length: 4, lineStyle: { color: "#000", width: 1.2 } },
      axisLabel: { customValues: YEARS, fontSize: 16, color: "#000", fontFamily: FONT, margin: 5 },
    });
    yAxes.push({
      gridIndex: gi, type: "value", min: -0.05, max: 1.05, ...axisBase(),
      name: "Survival probability", nameLocation: "middle", nameGap: P.yGap,
      nameTextStyle: { fontSize: 16, color: "#000", fontFamily: FONT },
      axisTick: { show: true, customValues: PROB_TICKS, length: 4, lineStyle: { color: "#000", width: 1.2 } },
      axisLabel: { customValues: PROB_TICKS, fontSize: 16, color: "#000", fontFamily: FONT, margin: 6, formatter: (v: number) => v.toFixed(2) },
    });
    const groups = [
      { g: P.hi, color: RED, fill: RED_FILL },
      { g: P.lw, color: BLUE, fill: BLUE_FILL },
    ];
    groups.forEach(({ g, color }) => {
      series.push({
        type: "line", xAxisIndex: gi, yAxisIndex: gi, step: "end", showSymbol: false, symbol: "none", silent: true, z: 2,
        data: g.t.map((t: number, i: number) => [t, g.s[i]]),
        lineStyle: { color, width: 2 },
      });
    });
    groups.forEach(({ g, fill }) => {
      series.push({
        type: "custom", xAxisIndex: gi, yAxisIndex: gi, silent: true, z: 3,
        data: [[g.bt[0], g.up[0]]],
        renderItem: (_params: any, api: any) => {
          const pts: number[][] = [];
          const n = g.bt.length;
          for (let k = 0; k < n; k++) {
            pts.push(api.coord([g.bt[k], g.up[k]]));
            if (k < n - 1) pts.push(api.coord([g.bt[k + 1], g.up[k]]));
          }
          for (let k = n - 1; k >= 0; k--) {
            if (k < n - 1) pts.push(api.coord([g.bt[k + 1], g.lo[k]]));
            pts.push(api.coord([g.bt[k], g.lo[k]]));
          }
          return { type: "polygon", shape: { points: pts }, style: { fill, stroke: "none" } };
        },
      });
    });
    groups.forEach(({ g, color }) => {
      series.push({
        type: "scatter", xAxisIndex: gi, yAxisIndex: gi, silent: true, z: 4,
        symbol: PLUS, symbolSize: 9, itemStyle: { color },
        data: g.cens.map((t: number) => [t, stepAt(g.t, g.s, t)]),
      });
    });
    // p value
    graphics.push({ type: "text", x: P.pX, y: 228, style: { text: P.p, fontSize: 21, fontFamily: FONT, fill: "#000", verticalAlign: "middle" } });
    // legend
    const [tx, k1, l1, k2, l2] = P.leg;
    graphics.push({ type: "text", x: tx, y: 11, style: { text: P.title, fontSize: 13, fontFamily: FONT, fill: "#000", verticalAlign: "middle" } });
    [[k1, l1, "high", RED, RED_FILL], [k2, l2, "low", BLUE, BLUE_FILL]].forEach(([kx, lx, lab, c, f]: any) => {
      graphics.push({ type: "rect", shape: { x: kx, y: 3, width: 22, height: 17 }, style: { fill: f } });
      graphics.push({ type: "line", shape: { x1: kx, y1: 11.5, x2: kx + 22, y2: 11.5 }, style: { stroke: c, lineWidth: 2 } });
      graphics.push({ type: "line", shape: { x1: kx + 11, y1: 7.5, x2: kx + 11, y2: 15.5 }, style: { stroke: c, lineWidth: 2 } });
      graphics.push({ type: "text", x: lx, y: 11, style: { text: lab, fontSize: 13, fontFamily: FONT, fill: "#000", verticalAlign: "middle" } });
    });
    letter(P.letter, P.letterX, P.letterY);
  });

  // ---------- risk tables ----------
  KM_PANELS.forEach((P) => {
    const gi = grids.length;
    grids.push({ left: P.left, top: 358, width: P.width, height: 38 });
    xAxes.push({
      gridIndex: gi, type: "value", min: -0.59, max: 12.56, ...axisBase(),
      name: "Time(years)", nameLocation: "middle", nameGap: 17,
      nameTextStyle: { fontSize: 18, color: "#000", fontFamily: FONT },
      axisTick: { show: true, customValues: YEARS, length: 4, lineStyle: { color: "#000", width: 1.2 } },
      axisLabel: { customValues: YEARS, fontSize: 16, color: "#000", fontFamily: FONT, margin: 4 },
    });
    yAxes.push({
      gridIndex: gi, type: "category", data: ["low", "high"], ...axisBase(),
      name: P.title, nameLocation: "middle", nameGap: P.rGap,
      nameTextStyle: { fontSize: 16, color: "#000", fontFamily: FONT },
      axisTick: { show: true, alignWithLabel: true, length: 4, lineStyle: { color: "#000", width: 1.2 } },
      axisLabel: { interval: 0, fontSize: 16, fontFamily: FONT, margin: 6, color: (v: string) => (v === "high" ? RED : BLUE) },
    });
    const rows: any[] = [];
    YEARS.forEach((t, i) => {
      rows.push([t, "high", P.hi.risk[i]]);
      rows.push([t, "low", P.lw.risk[i]]);
    });
    series.push({
      type: "scatter", xAxisIndex: gi, yAxisIndex: gi, silent: true, symbolSize: 1,
      itemStyle: { color: "rgba(0,0,0,0)" }, data: rows,
      label: { show: true, position: "inside", formatter: (p: any) => String(p.value[2]), fontSize: 16, fontFamily: FONT, color: "#000" },
    });
  });

  // ---------- box panels ----------
  BOX_PANELS.forEach((P, pi) => {
    const gi = grids.length;
    const [x0, y0, x1, y1] = P.g;
    grids.push({ left: x0, top: y0, width: x1 - x0, height: y1 - y0 });
    const n = P.cats.length;
    const idx = P.cats.map((_c, i) => i);
    xAxes.push({
      gridIndex: gi, type: "value", min: -0.6, max: n - 0.4, ...axisBase(),
      name: P.xTitle, nameLocation: "middle", nameGap: 22,
      nameTextStyle: { fontSize: 14, color: "#000", fontFamily: FONT },
      axisTick: { show: true, customValues: idx, length: 4, lineStyle: { color: "#000", width: 1.2 } },
      axisLabel: { customValues: idx, fontSize: 14, color: "#000", fontFamily: FONT, margin: 6, formatter: (v: number) => P.cats[Math.round(v)] },
    });
    yAxes.push({
      gridIndex: gi, type: "value", min: P.yr[0], max: P.yr[1], ...axisBase(),
      name: P.yTitle, nameLocation: "middle", nameGap: P.yGap,
      nameTextStyle: { fontSize: 13.5, color: "#000", fontFamily: FONT },
      axisTick: { show: true, customValues: P.ticks, length: 4, lineStyle: { color: "#000", width: 1.2 } },
      axisLabel: { customValues: P.ticks, fontSize: 14, color: "#000", fontFamily: FONT, margin: 5, formatter: (v: number) => String(v).replace("-", P.minus) },
    });
    // boxes
    series.push({
      type: "custom", xAxisIndex: gi, yAxisIndex: gi, silent: true, z: 2,
      data: P.box.map((b, i) => [i, b[0], b[1], b[2], b[3], b[4]]),
      renderItem: (params: any, api: any) => {
        const i = api.value(0);
        const c = P.colors[params.dataIndex];
        const lo = api.coord([i, api.value(1)]);
        const q1 = api.coord([i, api.value(2)]);
        const md = api.coord([i, api.value(3)]);
        const q3 = api.coord([i, api.value(4)]);
        const hi = api.coord([i, api.value(5)]);
        const hw = api.size([0.7, 0])[0] / 2;
        const ls = { stroke: c, lineWidth: 1.4, fill: "none" };
        return {
          type: "group",
          children: [
            { type: "line", shape: { x1: hi[0], y1: hi[1], x2: q3[0], y2: q3[1] }, style: ls },
            { type: "line", shape: { x1: q1[0], y1: q1[1], x2: lo[0], y2: lo[1] }, style: ls },
            { type: "rect", shape: { x: md[0] - hw, y: q3[1], width: hw * 2, height: q1[1] - q3[1] }, style: ls },
            { type: "line", shape: { x1: md[0] - hw, y1: md[1], x2: md[0] + hw, y2: md[1] }, style: { stroke: c, lineWidth: 2.8 } },
          ],
        };
      },
    });
    // jitter points
    P.pts.forEach((arr, i) => {
      series.push({
        type: "scatter", xAxisIndex: gi, yAxisIndex: gi, silent: true, z: 4,
        symbolSize: 3.5, itemStyle: { color: P.colors[i] },
        data: arr.map((v, k) => [i + JITTER[(k + i * 11 + pi * 5) % JITTER.length] * 0.22, v]),
      });
    });
    // brackets
    series.push({
      type: "custom", xAxisIndex: gi, yAxisIndex: gi, silent: true, z: 5,
      data: P.p.map((b) => [b[0], b[1], b[2]]),
      renderItem: (params: any, api: any) => {
        const a = api.coord([api.value(0), api.value(2)]);
        const b = api.coord([api.value(1), api.value(2)]);
        const lab = P.p[params.dataIndex][3] as string;
        return {
          type: "group",
          children: [
            { type: "polyline", shape: { points: [[a[0], a[1] + 5], [a[0], a[1]], [b[0], b[1]], [b[0], b[1] + 5]] }, style: { stroke: "#555", lineWidth: 1.2, fill: "none" } },
            { type: "text", x: (a[0] + b[0]) / 2, y: a[1] - 1, style: { text: lab, fontSize: 13, fontFamily: FONT, fill: "#222", align: "center", verticalAlign: "bottom" } },
          ],
        };
      },
    });
    // legend
    const L = P.leg;
    graphics.push({ type: "text", x: L.tx, y: L.y, style: { text: P.xTitle, fontSize: 14, fontFamily: FONT, fill: "#000", verticalAlign: "middle" } });
    L.kx.forEach((kx, i) => {
      const c = P.colors[i];
      const cx = kx + 8;
      graphics.push({ type: "line", shape: { x1: cx, y1: L.y - 8.5, x2: cx, y2: L.y - 5.5 }, style: { stroke: c, lineWidth: 1.2 } });
      graphics.push({ type: "rect", shape: { x: kx, y: L.y - 5.5, width: 16, height: 11 }, style: { stroke: c, fill: "#fff", lineWidth: 1.2 } });
      graphics.push({ type: "line", shape: { x1: kx, y1: L.y, x2: kx + 16, y2: L.y }, style: { stroke: c, lineWidth: 1.2 } });
      graphics.push({ type: "line", shape: { x1: cx, y1: L.y + 5.5, x2: cx, y2: L.y + 8.5 }, style: { stroke: c, lineWidth: 1.2 } });
      graphics.push({ type: "text", x: kx + 25, y: L.y, style: { text: P.cats[i], fontSize: 12, fontFamily: FONT, fill: "#000", verticalAlign: "middle" } });
    });
  });

  ROW_LETTERS.forEach((l) => letter(l.t, l.x, l.y));

  return {
    animation: false,
    backgroundColor: "#fff",
    textStyle: { fontFamily: FONT },
    grid: grids,
    xAxis: xAxes,
    yAxis: yAxes,
    series,
    graphic: { elements: graphics },
  };
}

export default function App() {
  const ref = useRef<HTMLDivElement>(null);
  useEffect(() => {
    if (!ref.current) return;
    const chart = echarts.init(ref.current, null, { renderer: "svg" });
    chart.setOption(buildOption() as any);
    return () => chart.dispose();
  }, []);
  return (
    <div
      ref={ref}
      style={{ position: "absolute", left: 0, top: 0, width: 1946, height: 1760, background: "#fff" }}
    />
  );
}
